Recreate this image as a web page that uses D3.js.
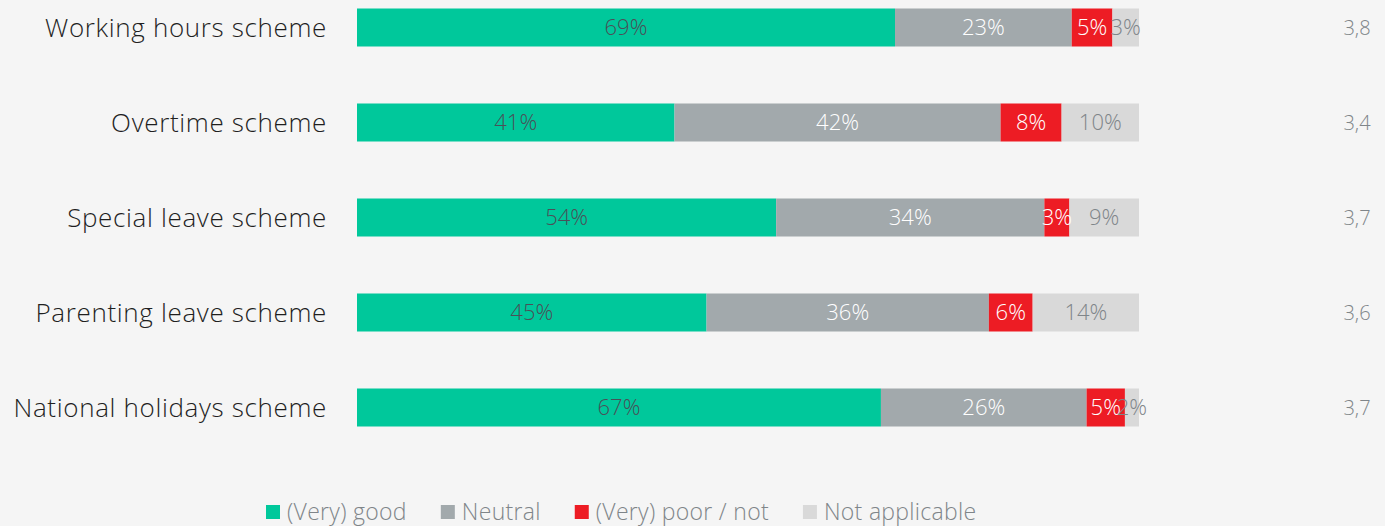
<!DOCTYPE html>
<html>
<head>
<meta charset="utf-8">
<script src="https://cdn.jsdelivr.net/npm/d3@7"></script>
<style>
  body { margin: 0; background: #f5f5f5; }
  svg { display: block; font-family: 'Open Sans', sans-serif; font-weight: 300; }
</style>
</head>
<body>
<svg id="chart" width="1385" height="526"></svg>
<script>
// categories and series (share of respondents, %)
const categories = ['Working hours scheme', 'Overtime scheme', 'Special leave scheme', 'Parenting leave scheme', 'National holidays scheme'];
const seriesNames = ['(Very) good', 'Neutral', '(Very) poor / not', 'Not applicable'];
const veryGood = [68.8, 40.6, 53.6, 44.7, 67.0];
const neutral = [22.6, 41.7, 34.3, 36.1, 26.3];
const poor = [5.2, 7.8, 3.2, 5.6, 4.9];
const notApplicable = [3.4, 9.9, 8.9, 13.6, 1.8];
const averageScore = ['3,8', '3,4', '3,7', '3,6', '3,7'];

const colors = ['#00c89b', '#a2a9ac', '#ed1c24', '#d9d9d9'];
const textColors = ['#4a5058', '#ffffff', '#ffffff', '#7f8589'];

const svg = d3.select('#chart');

const x = d3.scaleLinear().domain([0, 100]).range([357, 1139]);
const y = d3.scaleBand().domain(categories).range([-20, 455]).paddingInner(0.6).paddingOuter(0.3);

// stack the series
const rows = categories.map((c, i) => ({ category: c, v: [veryGood[i], neutral[i], poor[i], notApplicable[i]] }));
const segs = [];
rows.forEach(r => {
  let acc = 0;
  r.v.forEach((val, k) => {
    segs.push({ category: r.category, k, x0: acc, x1: acc + val, val });
    acc += val;
  });
});

const bh = 38;
const cy = c => y(c) + y.bandwidth() / 2;

svg.selectAll('rect.seg')
  .data(segs)
  .join('rect')
  .attr('class', 'seg')
  .attr('x', d => x(d.x0))
  .attr('width', d => x(d.x1) - x(d.x0))
  .attr('y', d => cy(d.category) - bh / 2)
  .attr('height', bh)
  .attr('fill', d => colors[d.k]);

svg.selectAll('text.val')
  .data(segs)
  .join('text')
  .attr('class', 'val')
  .attr('x', d => (x(d.x0) + x(d.x1)) / 2)
  .attr('y', d => cy(d.category))
  .attr('dy', '0.36em')
  .attr('text-anchor', 'middle')
  .style('font-size', '22px')
  .style('fill', d => textColors[d.k])
  .text(d => Math.round(d.val) + '%');

// category labels
svg.selectAll('text.cat')
  .data(categories)
  .join('text')
  .attr('class', 'cat')
  .attr('x', 327)
  .attr('y', d => cy(d))
  .attr('dy', '0.36em')
  .attr('text-anchor', 'end')
  .style('font-size', '26px')
  .style('letter-spacing', '0.65px')
  .style('fill', '#1f1f1f')
  .text(d => d);

// average score
svg.selectAll('text.avg')
  .data(categories)
  .join('text')
  .attr('class', 'avg')
  .attr('x', 1357)
  .attr('y', d => cy(d))
  .attr('dy', '0.36em')
  .attr('text-anchor', 'middle')
  .style('font-size', '20px')
  .style('fill', '#7f8589')
  .text((d, i) => averageScore[i]);

// legend
const legend = svg.append('g').attr('transform', 'translate(266, 512)');
let lx = 0;
seriesNames.forEach((name, i) => {
  const g = legend.append('g').attr('transform', `translate(${lx}, 0)`);
  g.append('rect').attr('x', 0).attr('y', -7).attr('width', 14).attr('height', 14).attr('fill', colors[i]);
  const t = g.append('text')
    .attr('x', 21)
    .attr('dy', '0.36em')
    .style('font-size', '23px')
    .style('letter-spacing', '0.3px')
    .style('fill', '#7f8589')
    .text(name);
  lx += 21 + t.node().getComputedTextLength() + 34;
});
</script>
</body>
</html>
